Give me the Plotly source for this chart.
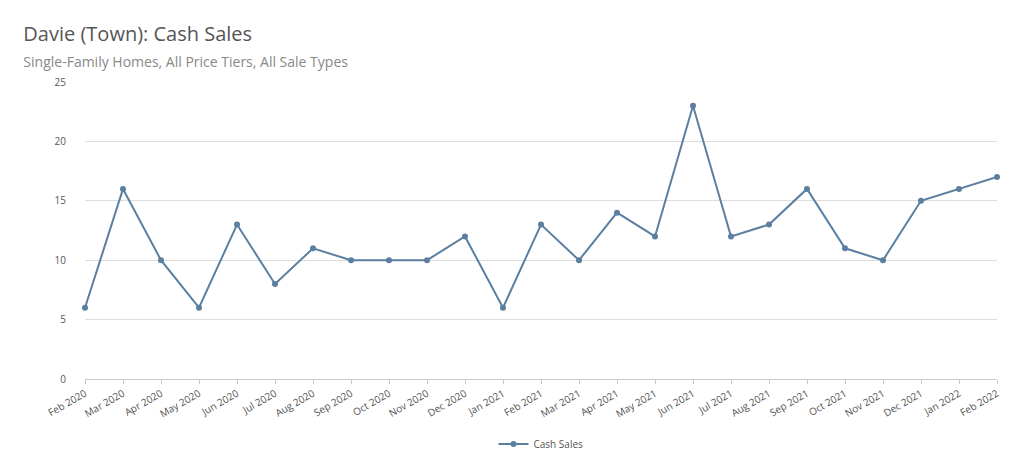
import plotly.graph_objects as go

months = ["Feb 2020","Mar 2020","Apr 2020","May 2020","Jun 2020","Jul 2020","Aug 2020","Sep 2020","Oct 2020","Nov 2020","Dec 2020",
          "Jan 2021","Feb 2021","Mar 2021","Apr 2021","May 2021","Jun 2021","Jul 2021","Aug 2021","Sep 2021","Oct 2021","Nov 2021","Dec 2021",
          "Jan 2022","Feb 2022"]
cash_sales = [6,16,10,6,13,8,11,10,10,10,12,6,13,10,14,12,23,12,13,16,11,10,15,16,17]

fig = go.Figure(go.Scatter(x=months, y=cash_sales, mode="lines+markers", name="Cash Sales",
                           line=dict(color="#5b7fa0", width=2), marker=dict(size=6, color="#5b7fa0"),
                           cliponaxis=False))
fig.update_layout(
    width=1024, height=469, paper_bgcolor="white", plot_bgcolor="white",
    font=dict(family="Open Sans", color="#555", size=11),
    margin=dict(l=77, r=35, t=74, b=98),
    title=dict(text="Davie (Town): Cash Sales<br><span style='font-size:14px;color:#888'>Single-Family Homes, All Price Tiers, All Sale Types</span>",
               x=0.015, xanchor="left", y=0.93, yanchor="top", font=dict(size=20, color="#555")),
    xaxis=dict(type="category", range=[0, 24], tickangle=-30, showgrid=False, showline=True, linecolor="#ccc",
               ticks="outside", tickcolor="#ccc", ticklen=4, tickfont=dict(size=10), automargin=False),
    yaxis=dict(range=[0, 25], dtick=5, gridcolor="#ddd", zeroline=False, tickfont=dict(size=10),
               ticklabelstandoff=18, automargin=False),
    showlegend=True,
    legend=dict(orientation="h", x=0.5, xanchor="center", y=-0.17, yanchor="top", font=dict(size=10)),
)
fig.write_html("out.html")
